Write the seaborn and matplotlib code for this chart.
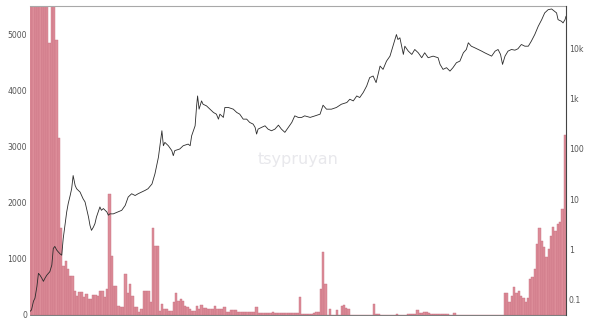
import matplotlib
matplotlib.use("Agg")
import matplotlib.pyplot as plt
import seaborn as sns
import numpy as np

# ---- bar series (left linear axis) ----
bar_values = [
    7000, 7000, 7000, 7000, 7000, 7000, 7000, 7000, 4850, 7000,
    7000, 4900, 3150, 1550, 880, 960, 820, 700, 700, 430,
    340, 410, 410, 320, 370, 290, 290, 360, 360, 340,
    430, 430, 320, 460, 2160, 1050, 520, 520, 160, 150,
    150, 730, 400, 550, 340, 150, 150, 60, 100, 430,
    430, 420, 230, 1550, 1230, 1230, 70, 200, 100, 100,
    80, 80, 230, 400, 250, 290, 250, 160, 150, 100,
    80, 80, 160, 100, 170, 130, 130, 100, 100, 100,
    160, 110, 110, 110, 140, 60, 60, 90, 90, 90,
    60, 60, 60, 60, 60, 50, 50, 50, 140, 40,
    40, 40, 40, 40, 30, 50, 30, 30, 30, 30,
    30, 30, 30, 30, 30, 30, 30, 320, 15, 15,
    15, 15, 15, 30, 60, 60, 460, 1120, 550, 5,
    110, 5, 5, 90, 5, 160, 180, 120, 110, 8,
    8, 8, 8, 8, 8, 8, 8, 8, 8, 200,
    15, 15, 3, 3, 3, 3, 3, 3, 3, 25,
    3, 3, 3, 3, 10, 10, 10, 10, 90, 30,
    30, 60, 50, 40, 10, 10, 10, 10, 20, 10,
    10, 10, 5, 5, 40, 5, 5, 5, 5, 5,
    5, 5, 5, 5, 5, 5, 5, 5, 5, 5,
    5, 5, 5, 5, 5, 0, 400, 400, 230, 340,
    500, 400, 430, 330, 310, 230, 300, 640, 680, 820,
    1270, 1540, 1320, 1210, 1030, 1180, 1410, 1570, 1500, 1620,
    1660, 1890, 3200,
]
bar_index = list(range(len(bar_values)))

# ---- price line (right log axis) ----
line_years = [
    2010.57, 2010.60, 2010.64, 2010.67, 2010.71, 2010.74, 2010.77, 2010.81, 2010.84, 2010.87,
    2010.91, 2010.97, 2011.01, 2011.04, 2011.07, 2011.11, 2011.17, 2011.21, 2011.24, 2011.28,
    2011.31, 2011.34, 2011.38, 2011.41, 2011.44, 2011.48, 2011.51, 2011.58, 2011.61, 2011.64,
    2011.68, 2011.71, 2011.75, 2011.78, 2011.81, 2011.85, 2011.88, 2011.91, 2011.98, 2012.01,
    2012.05, 2012.12, 2012.15, 2012.18, 2012.25, 2012.35, 2012.42, 2012.49, 2012.55, 2012.62,
    2012.69, 2012.75, 2012.82, 2012.89, 2012.95, 2013.03, 2013.09, 2013.16, 2013.23, 2013.26,
    2013.29, 2013.36, 2013.43, 2013.46, 2013.49, 2013.59, 2013.66, 2013.76, 2013.80, 2013.83,
    2013.90, 2013.93, 2013.95, 2013.98, 2014.03, 2014.06, 2014.13, 2014.20, 2014.27, 2014.33,
    2014.37, 2014.40, 2014.47, 2014.50, 2014.57, 2014.67, 2014.74, 2014.80, 2014.87, 2014.94,
    2015.00, 2015.07, 2015.11, 2015.14, 2015.17, 2015.24, 2015.31, 2015.37, 2015.44, 2015.51,
    2015.58, 2015.64, 2015.71, 2015.78, 2015.85, 2015.91, 2015.98, 2016.05, 2016.11, 2016.22,
    2016.32, 2016.42, 2016.48, 2016.55, 2016.65, 2016.75, 2016.85, 2016.96, 2017.02, 2017.09,
    2017.16, 2017.22, 2017.29, 2017.36, 2017.42, 2017.49, 2017.55, 2017.63, 2017.69, 2017.76,
    2017.83, 2017.89, 2017.96, 2017.99, 2018.03, 2018.10, 2018.13, 2018.20, 2018.27, 2018.33,
    2018.40, 2018.47, 2018.53, 2018.60, 2018.70, 2018.80, 2018.84, 2018.90, 2018.97, 2019.04,
    2019.10, 2019.17, 2019.24, 2019.31, 2019.37, 2019.41, 2019.47, 2019.54, 2019.61, 2019.68,
    2019.74, 2019.81, 2019.88, 2019.95, 2020.01, 2020.06, 2020.10, 2020.15, 2020.21, 2020.28,
    2020.35, 2020.41, 2020.48, 2020.55, 2020.62, 2020.68, 2020.75, 2020.82, 2020.89, 2020.95,
    2021.02, 2021.09, 2021.15, 2021.19, 2021.22, 2021.29, 2021.32, 2021.36, 2021.38,
]
line_prices = [
    0.059, 0.063, 0.094, 0.108, 0.186, 0.336, 0.31, 0.267, 0.233, 0.267,
    0.31, 0.362, 0.49, 1.05, 1.15, 0.97, 0.83, 0.77, 1.65, 3.27,
    5.56, 8.1, 11.8, 16.1, 29.4, 18.7, 16.1, 13.8, 11.8, 10.2,
    8.8, 6.5, 4.4, 3.0, 2.4, 2.8, 3.27, 4.4, 7.0, 6.0,
    6.5, 5.56, 4.8, 5.1, 5.1, 5.6, 6.0, 7.5, 11.0, 12.8,
    11.8, 12.8, 13.8, 14.9, 16.1, 20, 31.8, 68, 228, 115,
    134, 115, 92, 73, 92, 99, 115, 124, 115, 181,
    286, 711, 1120, 612, 893, 767, 711, 612, 526, 487,
    388, 487, 420, 661, 661, 612, 526, 487, 388, 388,
    334, 309, 266, 196, 246, 266, 286, 246, 228, 246,
    295, 246, 212, 266, 334, 451, 420, 420, 451, 420,
    451, 487, 734, 612, 612, 661, 767, 830, 964, 893,
    1120, 1042, 1309, 1766, 2590, 2790, 2060, 4390, 3775, 5510,
    6920, 10900, 18580, 14800, 16000, 7480, 10900, 8690, 7480, 9380,
    8070, 6430, 8070, 6430, 6920, 6430, 4740, 3775, 4080, 3490,
    4080, 5120, 5510, 8070, 9380, 12740, 10900, 10140, 9380, 8690,
    8070, 7480, 6920, 8690, 9380, 7480, 4740, 6920, 8690, 9380,
    9090, 9680, 11790, 10900, 10900, 13680, 18580, 27100, 36700, 49900,
    57900, 59800, 53600, 49900, 36700, 34000, 31600, 36700, 42700,
]

left_ticks = [0, 1000, 2000, 3000, 4000, 5000]
right_ticks = [0.1, 1, 10, 100, 1000, 10000]
right_labels = ["0.1", "1", "10", "100", "1k", "10k"]

W, H = 600, 319
fig = plt.figure(figsize=(W / 100, H / 100), dpi=100)
fig.patch.set_facecolor("white")
rect = [30 / W, 4 / H, 536 / W, 309 / H]

ax = fig.add_axes(rect)
sns.barplot(x=bar_index, y=bar_values, ax=ax, color="#dc8d99", saturation=1,
            width=1.0, edgecolor="#c96f80", linewidth=0.3)
ax.set_xlim(-0.5, len(bar_values) - 0.5)
ax.set_ylim(0, 5500)
ax.set_xticks([])
ax.set_yticks(left_ticks)
ax.set_yticklabels([str(t) for t in left_ticks])
ax.tick_params(axis="y", length=0, pad=2, labelsize=5.6, labelcolor="#555555")
ax.set_xlabel("")
ax.set_ylabel("")
ax.set_facecolor("white")
ax.spines["left"].set_visible(False)
ax.spines["right"].set_visible(False)
ax.spines["top"].set_color("#a8a8a8")
ax.spines["top"].set_linewidth(0.8)
ax.spines["bottom"].set_color("#666666")
ax.spines["bottom"].set_linewidth(0.6)

ax2 = fig.add_axes(rect)
ax2.patch.set_alpha(0)
sns.lineplot(x=line_years, y=line_prices, ax=ax2, color="#2b2b2b", linewidth=0.6)
ax2.set_yscale("log")
ax2.set_xlim(2010.57, 2021.38)
ax2.set_ylim(0.05, 68500)
ax2.set_xticks([])
ax2.yaxis.tick_right()
ax2.set_yticks(right_ticks)
ax2.set_yticklabels(right_labels)
ax2.minorticks_off()
ax2.tick_params(axis="y", which="both", length=0, pad=2, labelsize=5.6, labelcolor="#555555")
ax2.set_xlabel("")
ax2.set_ylabel("")
for s in ["left", "top", "bottom"]:
    ax2.spines[s].set_visible(False)
ax2.spines["right"].set_color("#444444")
ax2.spines["right"].set_linewidth(0.8)

fig.text(298 / W, 1 - 160 / H, "tsypruyan", ha="center", va="center",
         fontsize=11.5, color="#e8e8ec")

fig.savefig("out.png", dpi=100, facecolor="white")
